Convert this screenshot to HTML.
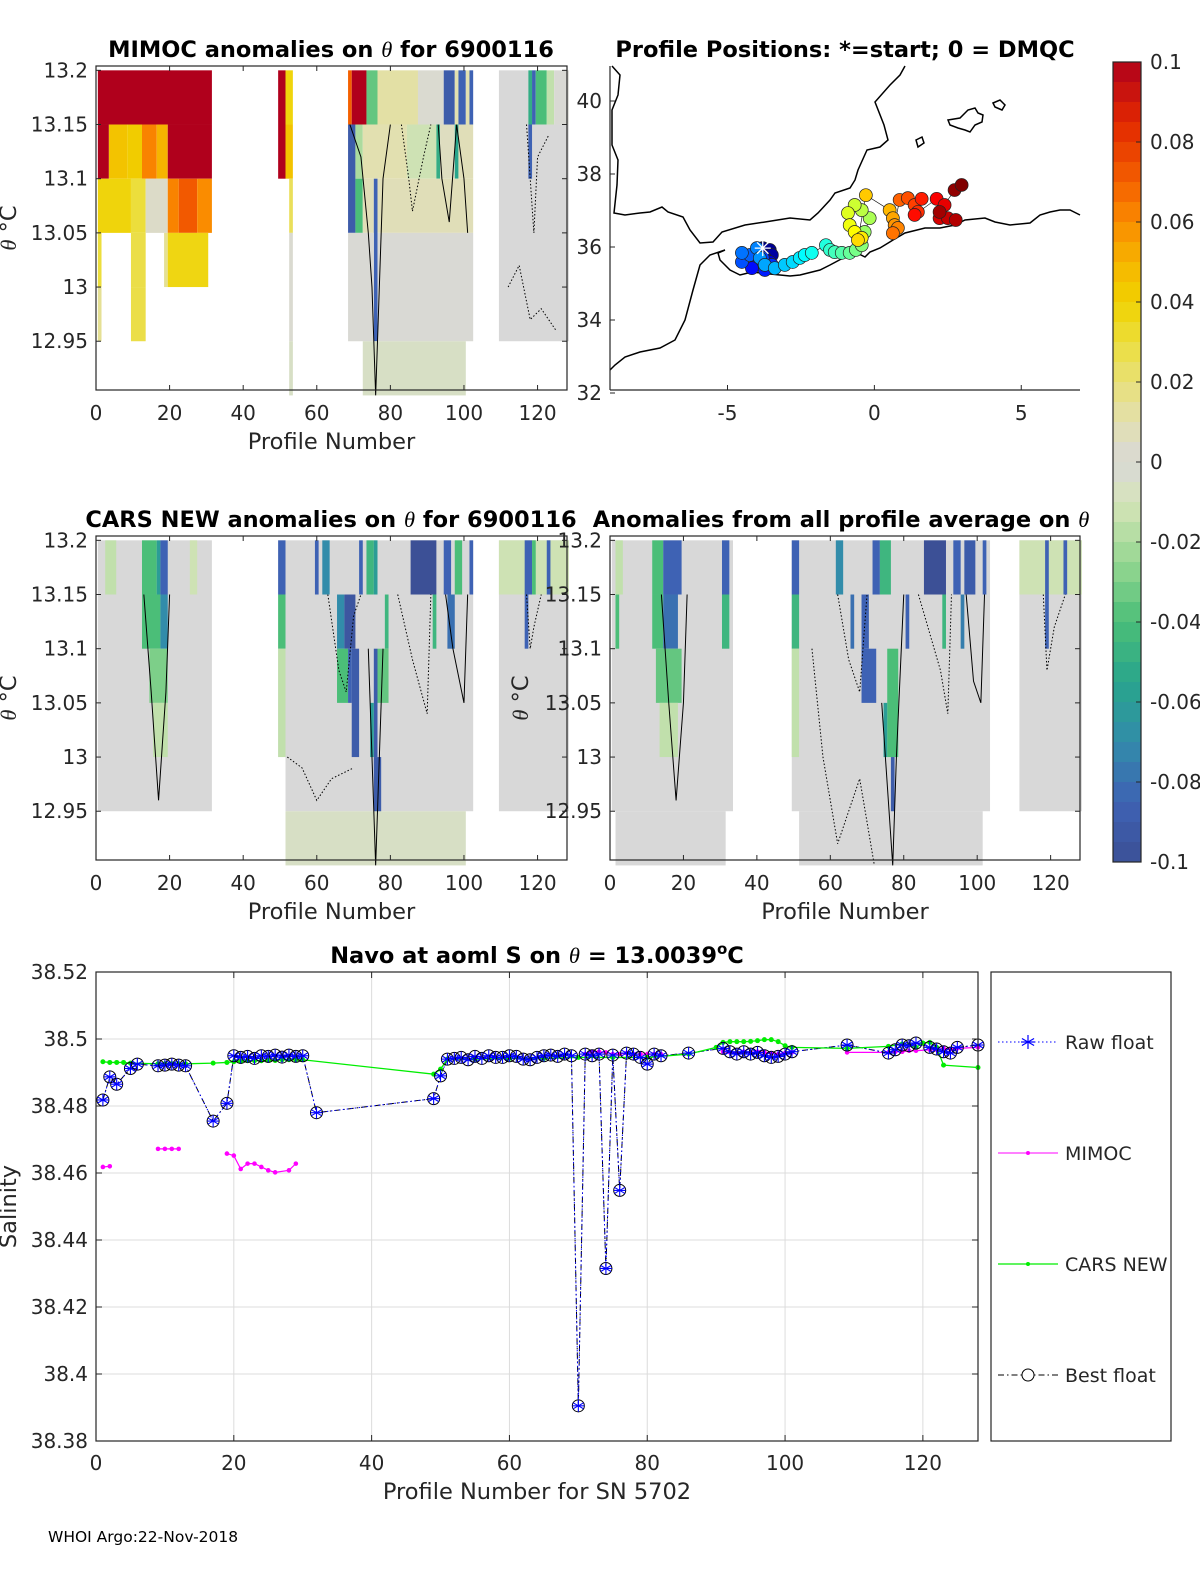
<!DOCTYPE html>
<html><head><meta charset="utf-8">
<style>
html,body{margin:0;padding:0;background:#fff;}
svg{display:block;font-family:"DejaVu Sans","Liberation Sans",sans-serif;}
</style></head>
<body>
<svg id="fig" width="1200" height="1575" viewBox="0 0 1200 1575" xmlns="http://www.w3.org/2000/svg"></svg>
<script>
// ---------- DATA ----------
const mimocBlocks = [
 [1,31,13.2,13.15,0.1],
 [1,3,13.15,13.1,0.1],[4,8,13.15,13.1,0.045],[9,12,13.15,13.1,0.042],[13,16,13.15,13.1,0.062],[17,19,13.15,13.1,0.05],[20,31,13.15,13.1,0.1],
 [1,9,13.1,13.05,0.038],[10,13,13.1,13.05,0.03],[14,19,13.1,13.05,0.004],[20,22,13.1,13.05,0.062],[23,27,13.1,13.05,0.072],[28,31,13.1,13.05,0.06],
 [1,1,13.05,13,0.03],[10,13,13.05,13,0.028],[19,19,13.05,13,0.015],[20,30,13.05,13,0.037],
 [1,1,13,12.95,0.015],[10,13,13,12.95,0.028],
 [50,51,13.2,13.1,0.1],[52,53,13.2,13.15,0.038],[52,53,13.15,13.1,0.045],[53,53,13.1,13.05,0.025],[53,53,13.05,12.95,0.002],[53,53,12.95,12.9,-0.006],
 [69,69,13.2,13.15,0.07],[70,73,13.2,13.15,0.1],[74,76,13.2,13.15,-0.035],[77,87,13.2,13.15,0.012],[88,94,13.2,13.15,0.002],[95,97,13.2,13.15,-0.09],[98,98,13.2,13.15,0.01],[99,100,13.2,13.15,-0.085],[101,101,13.2,13.15,0.01],[102,102,13.2,13.15,-0.085],
 [69,70,13.15,13.05,-0.09],[71,72,13.15,13.1,-0.02],[73,84,13.15,13.1,0.01],[85,92,13.15,13.1,-0.012],[93,93,13.15,13.1,-0.05],[94,97,13.15,13.1,0.006],[98,98,13.15,13.1,-0.055],[99,102,13.15,13.1,0.008],
 [71,72,13.1,13.05,-0.04],[73,75,13.1,13.05,0.008],[76,76,13.1,12.95,-0.085],[77,102,13.1,13.05,0.008],
 [69,75,13.05,12.95,0.001],[77,102,13.05,12.95,0.001],
 [73,100,12.95,12.9,-0.006],
 [110,117,13.2,13.15,0],[118,118,13.2,13.15,-0.05],[119,119,13.2,13.15,-0.085],[120,122,13.2,13.15,-0.04],[123,124,13.2,13.15,-0.015],[125,128,13.2,13.15,0.001],
 [110,128,13.15,12.95,0.0],[118,118,13.15,13.1,-0.085]
];
const carsBlocks = [
 [1,31,13.2,12.95,0.0],
 [3,5,13.2,13.15,-0.015],[13,16,13.2,13.15,-0.04],[17,17,13.2,13.15,-0.06],[18,19,13.2,13.15,-0.085],[26,27,13.2,13.15,-0.012],
 [13,17,13.15,13.1,-0.04],[18,19,13.15,13.1,-0.07],
 [15,19,13.1,13.05,-0.03],[16,19,13.05,13,-0.015],
 [50,51,13.2,13.0,0.0],[52,102,13.2,12.95,0.0],[52,100,12.95,12.9,-0.006],
 [50,51,13.2,13.15,-0.085],[60,60,13.2,13.15,-0.085],[62,63,13.2,13.15,-0.07],[72,72,13.2,13.15,-0.085],[74,75,13.2,13.15,-0.045],[76,76,13.2,13.15,-0.06],[86,92,13.2,13.15,-0.1],[95,96,13.2,13.15,-0.085],[98,99,13.2,13.15,-0.04],[102,102,13.2,13.15,-0.085],
 [50,51,13.15,13.1,-0.04],[66,67,13.15,13.1,-0.07],[68,70,13.15,13.1,-0.095],[79,79,13.15,13.1,-0.045],[92,92,13.15,13.1,-0.045],[96,97,13.15,13.1,-0.08],
 [50,51,13.1,13.0,-0.015],[66,68,13.1,13.05,-0.04],[69,69,13.1,13.05,-0.085],[70,71,13.1,13.0,-0.09],[76,76,13.1,13.0,-0.09],[77,79,13.1,13.05,-0.035],[75,75,13.05,13,-0.06],[76,77,13.0,12.95,-0.09],
 [110,128,13.2,12.95,0.0],[110,128,13.2,13.15,-0.012],[117,118,13.2,13.15,-0.085],[119,119,13.2,13.15,-0.04],[123,123,13.2,13.15,-0.085],[117,117,13.15,13.1,-0.085]
];
const allBlocks = [
 [1,33,13.2,12.95,0.0],[2,31,12.95,12.9,0.0],
 [2,3,13.2,13.15,-0.015],[12,14,13.2,13.15,-0.04],[15,19,13.2,13.15,-0.085],[31,32,13.2,13.15,-0.085],
 [2,2,13.15,13.1,-0.04],[12,14,13.15,13.1,-0.04],[15,18,13.15,13.1,-0.08],[31,32,13.15,13.1,-0.045],
 [13,19,13.1,13.05,-0.035],[14,18,13.05,13,-0.015],
 [50,103,13.2,12.95,0.0],[52,101,12.95,12.9,0.0],
 [50,51,13.2,13.15,-0.085],[62,63,13.2,13.15,-0.07],[72,73,13.2,13.15,-0.085],[74,76,13.2,13.15,-0.045],[86,91,13.2,13.15,-0.1],[94,95,13.2,13.15,-0.085],[97,99,13.2,13.15,-0.09],[102,102,13.2,13.15,-0.085],
 [50,51,13.15,13.1,-0.045],[66,66,13.15,13.1,-0.08],[69,70,13.15,13.1,-0.085],[81,81,13.15,13.1,-0.085],[91,91,13.15,13.1,-0.045],[96,96,13.15,13.1,-0.075],
 [50,51,13.1,13.0,-0.015],[69,72,13.1,13.05,-0.085],[76,78,13.1,13.0,-0.04],[75,75,13.05,13,-0.06],[77,77,13.0,12.95,-0.09],
 [112,128,13.2,12.95,0.0],[112,128,13.2,13.15,-0.012],[119,119,13.2,13.15,-0.085],[124,124,13.2,13.15,-0.085],[119,119,13.15,13.1,-0.085]
];
// contours: [dotted flag, points...]
const mimocContours = [
 [0,[69,13.15],[72,13.12],[74,13.05],[75,13.0],[76,12.9],[77,13.0],[78,13.1],[80,13.15]],
 [1,[83,13.15],[85,13.1],[86,13.07],[89,13.12],[91,13.15]],
 [0,[93,13.15],[94,13.1],[96,13.06],[98,13.15],[100,13.1],[101,13.05]],
 [1,[117,13.15],[118,13.1],[119,13.05],[120,13.12],[123,13.14]],
 [1,[112,13.0],[115,13.02],[118,12.97],[121,12.98],[125,12.96]]
];
const carsContours = [
 [0,[13,13.15],[15,13.06],[17,12.96],[19,13.06],[20,13.15]],
 [1,[63,13.15],[66,13.08],[68,13.06],[70,13.13],[72,13.15]],
 [0,[74,13.1],[75,13.0],[76,12.9],[77,13.0],[78,13.1]],
 [1,[82,13.15],[86,13.09],[90,13.04],[91,13.15]],
 [0,[95,13.15],[97,13.1],[100,13.05],[101,13.15]],
 [1,[117,13.15],[118,13.1],[119,13.12],[121,13.15]],
 [1,[52,13.0],[56,12.99],[60,12.96],[64,12.98],[70,12.99]]
];
const allContours = [
 [0,[14,13.15],[16,13.05],[18,12.96],[20,13.05],[21,13.15]],
 [1,[62,13.15],[65,13.09],[68,13.06],[70,13.15]],
 [0,[74,13.05],[76,12.95],[77,12.9],[78,13.0],[80,13.15]],
 [1,[84,13.15],[90,13.08],[92,13.04],[93,13.15]],
 [0,[97,13.15],[99,13.07],[101,13.05],[102,13.15]],
 [1,[118,13.15],[119,13.08],[121,13.12],[124,13.15]],
 [1,[55,13.1],[58,13.0],[62,12.92],[68,12.98],[72,12.9]]
];
const posLon = [-3.80,-3.56,-3.49,-3.73,-3.90,-3.56,-3.80,-4.00,-4.17,-3.73,-3.49,-3.80,-4.51,-4.24,-4.51,-4.00,-3.90,-3.73,-3.39,-3.05,-2.78,-2.54,-2.37,-2.13,-1.65,-1.51,-1.35,-1.11,-0.84,-0.63,-0.43,-0.33,-0.16,-0.43,-0.67,-0.90,-0.84,-0.67,-0.43,-0.56,-0.29,0.52,0.63,0.69,0.80,0.63,0.86,1.14,1.37,1.48,1.61,1.37,2.12,2.39,2.22,2.50,2.77,2.22,2.73,2.97];
const posLat = [35.97,35.92,35.78,35.70,35.84,35.59,35.51,35.59,35.42,35.37,35.51,35.70,35.59,35.78,35.84,35.97,35.70,35.51,35.42,35.51,35.59,35.70,35.78,35.84,36.05,35.92,35.86,35.84,35.84,35.92,36.05,36.41,36.79,37.01,37.15,36.93,36.60,36.41,36.25,36.19,37.42,37.01,36.79,36.60,36.52,36.38,37.29,37.34,37.15,36.96,37.32,36.88,37.32,37.15,36.79,36.79,36.74,36.96,37.56,37.70];
const profNum = [1,2,3,5,6,9,10,11,12,13,17,19,20,21,22,23,24,25,26,27,28,29,30,32,49,50,51,52,53,54,55,56,57,58,59,60,61,62,63,64,65,66,67,68,69,70,71,72,73,74,75,76,77,78,79,80,81,82,86,91,92,93,94,95,96,97,98,99,100,101,109,115,116,117,118,119,121,122,123,124,125,128];
const bestS = [38.4818,38.4887,38.4865,38.4912,38.4925,38.4920,38.4922,38.4925,38.4922,38.4920,38.4755,38.4808,38.4950,38.4945,38.4948,38.4942,38.4950,38.4948,38.4952,38.4946,38.4952,38.4948,38.4950,38.4780,38.4822,38.4890,38.4940,38.4942,38.4945,38.4938,38.4948,38.4942,38.4950,38.4945,38.4945,38.4950,38.4948,38.4940,38.4938,38.4945,38.4950,38.4952,38.4948,38.4955,38.4950,38.3905,38.4955,38.4950,38.4955,38.4315,38.4952,38.4548,38.4958,38.4955,38.4945,38.4925,38.4955,38.4950,38.4958,38.4972,38.4962,38.4955,38.4962,38.4955,38.4960,38.4950,38.4945,38.4948,38.4955,38.4962,38.4982,38.4958,38.4968,38.4982,38.4980,38.4988,38.4975,38.4970,38.4962,38.4958,38.4975,38.4982];
const rawS = bestS.slice();
const mimocProf = [1,2,9,10,11,12,19,20,21,22,23,24,25,26,28,29,71,72,73,74,75,76,77,78,79,80,81,82,91,92,93,94,95,96,97,98,99,100,101,109,115,116,117,118,119,121,122,123,124,125,128];
const mimocS = [38.4618,38.4620,38.4672,38.4672,38.4672,38.4672,38.4658,38.4652,38.4612,38.4628,38.4628,38.4618,38.4608,38.4602,38.4608,38.4628,38.4955,38.4962,38.4962,38.4960,38.4955,38.4955,38.4958,38.4955,38.4955,38.4955,38.4955,38.4955,38.4962,38.4960,38.4958,38.4962,38.4960,38.4962,38.4960,38.4958,38.4955,38.4958,38.4960,38.4960,38.4960,38.4962,38.4962,38.4965,38.4965,38.4968,38.4968,38.4972,38.4970,38.4972,38.4975];
const carsProf = [1,2,3,4,5,9,10,11,12,13,17,19,20,21,22,23,24,25,26,27,28,29,30,49,50,51,55,60,65,70,75,80,86,90,91,92,93,94,95,96,97,98,99,100,101,109,115,117,118,119,120,121,122,123,128];
const carsS = [38.4932,38.4930,38.4930,38.4930,38.4928,38.4926,38.4926,38.4926,38.4926,38.4926,38.4928,38.4930,38.4932,38.4933,38.4935,38.4935,38.4935,38.4936,38.4936,38.4938,38.4938,38.4938,38.4938,38.4895,38.4910,38.4940,38.4940,38.4942,38.4942,38.4945,38.4945,38.4945,38.4955,38.4975,38.4990,38.4992,38.4992,38.4992,38.4993,38.4995,38.4998,38.4998,38.4992,38.4980,38.4975,38.4972,38.4978,38.4985,38.4982,38.4975,38.4988,38.4990,38.4975,38.4922,38.4915];
const cbTicks = [0.1,0.08,0.06,0.04,0.02,0,-0.02,-0.04,-0.06,-0.08,-0.1];
const cbLabels = ["0.1","0.08","0.06","0.04","0.02","0","-0.02","-0.04","-0.06","-0.08","-0.1"];
const thTicks = [13.2,13.15,13.1,13.05,13,12.95];
const thLabels = ["13.2","13.15","13.1","13.05","13","12.95"];
const profTicks = [0,20,40,60,80,100,120];
const lonTicks = [-5,0,5];
const latTicks = [40,38,36,34,32];
const salTicks = [38.52,38.5,38.48,38.46,38.44,38.42,38.4,38.38];
const salLabels = ["38.52","38.5","38.48","38.46","38.44","38.42","38.4","38.38"];

// ---------- HELPERS ----------
const NS="http://www.w3.org/2000/svg";
const svg=document.getElementById('fig');
const FS=20, TFS=22.5;
function mk(tag,attrs,parent){const e=document.createElementNS(NS,tag);for(const k in attrs)e.setAttribute(k,attrs[k]);(parent||svg).appendChild(e);return e;}
function txt(s,x,y,attrs,parent){const e=mk('text',Object.assign({x:x,y:y,'font-size':FS,fill:'#262626'},attrs||{}),parent);e.textContent=s;return e;}
const TH='<tspan font-family="Liberation Serif, serif" font-style="italic" font-weight="normal">θ</tspan>';
const stops=[[-0.1,[60,80,150]],[-0.085,[62,98,180]],[-0.07,[50,140,170]],[-0.055,[40,165,140]],[-0.04,[75,190,120]],[-0.025,[150,215,145]],[-0.01,[215,228,185]],[0,[216,216,216]],[0.01,[226,224,176]],[0.02,[232,224,120]],[0.03,[236,222,60]],[0.04,[240,210,0]],[0.05,[246,180,0]],[0.06,[250,140,0]],[0.07,[244,96,0]],[0.085,[226,40,0]],[0.1,[176,0,28]]];
function cmap(v){v=Math.max(-0.1,Math.min(0.1,v));for(let i=1;i<stops.length;i++){if(v<=stops[i][0]){const a=stops[i-1],b=stops[i];const t=(v-a[0])/(b[0]-a[0]);const c=a[1].map((q,j)=>Math.round(q+(b[1][j]-q)*t));return 'rgb('+c.join(',')+')';}}return 'rgb(176,0,28)';}
function jet(t){const r=Math.max(0,Math.min(1,1.5-Math.abs(4*t-3))),g=Math.max(0,Math.min(1,1.5-Math.abs(4*t-2))),b=Math.max(0,Math.min(1,1.5-Math.abs(4*t-1)));return 'rgb('+[r,g,b].map(q=>Math.round(q*255)).join(',')+')';}

// ---------- HEATMAP PANELS ----------
function heatPanel(name,L,T,R,B,blocks,contours,titleHTML,titleX,yLabelX){
  const g=mk('g',{});
  
  
  const xs=p=>L+p*(R-L)/128;
  const ys=th=>T+(13.204-th)*(B-T)/(13.204-12.905);
  blocks.forEach(b=>{
    const r=mk('rect',{x:xs(b[0]-0.5),y:ys(b[2]),width:xs(b[1]+0.5)-xs(b[0]-0.5),height:ys(b[3])-ys(b[2]),fill:cmap(b[4])},g);
    
    
  });
  contours.forEach(c=>{
    const pts=c.slice(1);
    const pl=mk('polyline',{points:pts.map(q=>xs(q[0])+','+ys(q[1])).join(' '),fill:'none',stroke:'#000','stroke-width':1,'stroke-dasharray':c[0]?'1.5 2':'none'},g);
    
    
  });
  mk('rect',{x:L,y:T,width:R-L,height:B-T,fill:'none',stroke:'#262626','stroke-width':1.2},g);
  profTicks.forEach(t=>{const x=xs(t);mk('line',{x1:x,y1:B,x2:x,y2:B-5,stroke:'#262626'},g);mk('line',{x1:x,y1:T,x2:x,y2:T+5,stroke:'#262626'},g);
    const l=txt(String(t),x,B+30,{'text-anchor':'middle'},g);});
  thTicks.forEach((t,i)=>{const y=ys(t);mk('line',{x1:L,y1:y,x2:L+5,y2:y,stroke:'#262626'},g);mk('line',{x1:R,y1:y,x2:R-5,y2:y,stroke:'#262626'},g);
    const l=txt(thLabels[i],L-8,y+7,{'text-anchor':'end'},g);});
  const xt=txt('Profile Number',(L+R)/2,B+59,{'text-anchor':'middle','font-size':TFS},g);
  
  const yt=mk('text',{'text-anchor':'middle','font-size':TFS,fill:'#262626',transform:'translate('+yLabelX+','+((T+B)/2)+') rotate(-90)'},g);
  yt.innerHTML=TH+' °C';
  
  const tt=mk('text',{x:titleX,y:T-9,'text-anchor':'middle','font-size':TFS,'font-weight':'bold',fill:'#000'},g);
  tt.innerHTML=titleHTML;
  
}
heatPanel('mimoc-anomaly-panel',96,66,567,390,mimocBlocks,mimocContours,'MIMOC anomalies on '+TH+'  for 6900116',331,16);
heatPanel('cars-anomaly-panel',96,536,567,860,carsBlocks,carsContours,'CARS NEW anomalies on '+TH+' for 6900116',331,16);
heatPanel('all-profile-anomaly-panel',610,536,1080,860,allBlocks,allContours,'Anomalies from all profile average on '+TH,841,528);

// ---------- MAP ----------
(function(){
  const L=610,T=66,R=1080,B=390;
  const g=mk('g',{});
  
  
  const xs=lon=>L+(lon+9)*(R-L)/16;
  const ys=lat=>247-(lat-36)*36.5;
  const coast=[
   "612,66 620,75 618,95 612,110 612,145 618,160 617,185 614,213 625,215 640,213 650,212 662,207 668,212 683,217 690,230 700,243 713,242 722,232 745,225 765,222 790,218 810,220 818,213 830,200 835,193 850,188 855,180 858,170 867,150 880,147 888,140 884,125 875,102 890,85 900,75 905,66",
   "1080,215 1070,210 1060,210 1050,212 1040,215 1030,223 1010,225 995,222 985,218 965,220 955,225 940,228 925,228 905,233 893,240 880,248 870,252 865,257 855,252 845,257 830,265 820,270 800,275 790,276 770,274 752,272 740,275 730,270 720,260 718,253 725,250 710,255 700,265 693,290 685,320 675,340 660,348 640,352 625,357 615,365 610,370"];
  coast.forEach(c=>{const p=mk('polyline',{points:c,fill:'none',stroke:'#000','stroke-width':1.5},g);});
  ["948,120 960,118 968,110 975,108 978,113 983,115 982,122 975,125 970,132 965,130 958,128 950,125","993,103 1000,100 1005,105 1002,110 995,107","916,140 922,137 924,143 918,147"].forEach(c=>{const p=mk('polygon',{points:c,fill:'none',stroke:'#000','stroke-width':1.5},g);});
  mk('polyline',{points:posLon.map((v,i)=>xs(v)+','+ys(posLat[i])).join(' '),fill:'none',stroke:'#000','stroke-width':0.6},g);
  posLon.forEach((v,i)=>{const c=mk('circle',{cx:xs(v),cy:ys(posLat[i]),r:6.5,fill:jet(i/(posLon.length-1)),stroke:'#222','stroke-width':0.7},g);
    });
  const sx=xs(posLon[0]),sy=ys(posLat[0]);
  [0,45,90,135].forEach(a=>{const r=a*Math.PI/180;mk('line',{x1:sx-8*Math.cos(r),y1:sy-8*Math.sin(r),x2:sx+8*Math.cos(r),y2:sy+8*Math.sin(r),stroke:'#fff','stroke-width':1.3},g);});
  mk('line',{x1:L,y1:T,x2:L,y2:B,stroke:'#262626','stroke-width':1.2},g);
  mk('line',{x1:L,y1:B,x2:R,y2:B,stroke:'#262626','stroke-width':1.2},g);
  lonTicks.forEach(t=>{const x=xs(t);mk('line',{x1:x,y1:B,x2:x,y2:B-5,stroke:'#262626'},g);
    const l=txt(String(t),x,B+30,{'text-anchor':'middle'},g);});
  latTicks.forEach(t=>{const y=ys(t);mk('line',{x1:L,y1:y,x2:L+5,y2:y,stroke:'#262626'},g);
    const l=txt(String(t),L-8,y+7,{'text-anchor':'end'},g);});
  const tt=txt('Profile Positions: *=start; 0 = DMQC',845,57,{'text-anchor':'middle','font-size':TFS,'font-weight':'bold',fill:'#000'},g);
  
})();

// ---------- COLORBAR ----------
(function(){
  const L=1113,R=1141,T=62,B=862;
  const g=mk('g',{});
  
  
  const ys=v=>T+(0.1-v)*(B-T)/0.2;
  for(let i=0;i<40;i++){const v1=0.1-i*0.005;mk('rect',{x:L,y:ys(v1),width:R-L,height:(B-T)/40+0.5,fill:cmap(v1-0.0025)},g);}
  mk('rect',{x:L,y:T,width:R-L,height:B-T,fill:'none',stroke:'#262626','stroke-width':1.2},g);
  cbTicks.forEach((t,i)=>{const y=ys(t);mk('line',{x1:R,y1:y,x2:R-5,y2:y,stroke:'#262626'},g);
    const l=txt(cbLabels[i],R+9,y+7,{},g);});
})();

// ---------- SALINITY PANEL ----------
(function(){
  const L=96,R=978,T=972,B=1441;
  const g=mk('g',{});
  
  
  const xs=p=>L+p*(R-L)/128;
  const ys=s=>T+(38.52-s)*(B-T)/0.14;
  profTicks.forEach(t=>{const x=xs(t);mk('line',{x1:x,y1:T,x2:x,y2:B,stroke:'#dcdcdc'},g);});
  salTicks.forEach(t=>{const y=ys(t);mk('line',{x1:L,y1:y,x2:R,y2:y,stroke:'#dcdcdc'},g);});
  function segLine(px,vals,color,w){let seg=[];const segs=[];px.forEach((p,i)=>{if(i>0&&p-px[i-1]>6){segs.push(seg);seg=[];}seg.push(xs(p)+','+ys(vals[i]));});segs.push(seg);
    segs.forEach(s=>{const pl=mk('polyline',{points:s.join(' '),fill:'none',stroke:color,'stroke-width':w},g);});}
  segLine(mimocProf,mimocS,'#ff00ff',1.2);
  mimocProf.forEach((p,i)=>{const c=mk('circle',{cx:xs(p),cy:ys(mimocS[i]),r:2.3,fill:'#ff00ff'},g);});
  const bl=mk('polyline',{points:profNum.map((p,i)=>xs(p)+','+ys(bestS[i])).join(' '),fill:'none',stroke:'#000','stroke-width':1,'stroke-dasharray':'6 3 1.5 3'},g);
  
  const rl=mk('polyline',{points:profNum.map((p,i)=>xs(p)+','+ys(rawS[i])).join(' '),fill:'none',stroke:'#0000ff','stroke-width':1,'stroke-dasharray':'1.5 2.5'},g);
  
  const cl=mk('polyline',{points:carsProf.map((p,i)=>xs(p)+','+ys(carsS[i])).join(' '),fill:'none',stroke:'#00ee00','stroke-width':1.3},g);
  
  carsProf.forEach((p,i)=>{const c=mk('circle',{cx:xs(p),cy:ys(carsS[i]),r:2.5,fill:'#00ee00'},g);});
  profNum.forEach((p,i)=>{const x=xs(p),y=ys(bestS[i]);
    const c=mk('circle',{cx:x,cy:y,r:6,fill:'none',stroke:'#000','stroke-width':1},g);
    const yr=ys(rawS[i]);
    [0,60,120].forEach(a=>{const r=a*Math.PI/180+Math.PI/2;mk('line',{x1:x-6*Math.cos(r),y1:yr-6*Math.sin(r),x2:x+6*Math.cos(r),y2:yr+6*Math.sin(r),stroke:'#0000ff','stroke-width':1.1},g);});
    mk('line',{x1:x-6,y1:yr,x2:x+6,y2:yr,stroke:'#0000ff','stroke-width':1.1},g);
  });
  mk('rect',{x:L,y:T,width:R-L,height:B-T,fill:'none',stroke:'#262626','stroke-width':1.2},g);
  profTicks.forEach(t=>{const x=xs(t);mk('line',{x1:x,y1:B,x2:x,y2:B-6,stroke:'#262626'},g);mk('line',{x1:x,y1:T,x2:x,y2:T+6,stroke:'#262626'},g);
    const l=txt(String(t),x,B+29,{'text-anchor':'middle'},g);});
  salTicks.forEach((t,i)=>{const y=ys(t);mk('line',{x1:L,y1:y,x2:L+6,y2:y,stroke:'#262626'},g);mk('line',{x1:R,y1:y,x2:R-6,y2:y,stroke:'#262626'},g);
    const l=txt(salLabels[i],L-8,y+7,{'text-anchor':'end'},g);});
  const xt=txt('Profile Number for SN 5702',(L+R)/2,B+58,{'text-anchor':'middle','font-size':TFS},g);
  
  const yt=txt('Salinity',0,0,{'text-anchor':'middle','font-size':TFS,transform:'translate(16,'+((T+B)/2)+') rotate(-90)'},g);
  
  const tt=mk('text',{x:537,y:963,'text-anchor':'middle','font-size':TFS,'font-weight':'bold',fill:'#000'},g);
  tt.innerHTML='Navo at aoml S on '+TH+' = 13.0039<tspan dy="-9" font-size="15">o</tspan><tspan dy="9">C</tspan>';
  
})();

// ---------- LEGEND ----------
(function(){
  const g=mk('g',{});
  
  
  mk('rect',{x:991,y:972,width:180,height:469,fill:'#fff',stroke:'#262626','stroke-width':1.2},g);
  const entries=[['Raw float',1042],['MIMOC',1153],['CARS NEW',1264],['Best float',1375]];
  entries.forEach((e,i)=>{
    const eg=mk('g',{},g);
    
    
    const y=e[1],x1=998,x2=1058,xm=(x1+x2)/2;
    if(i===0){mk('line',{x1:x1,y1:y,x2:x2,y2:y,stroke:'#0000ff','stroke-dasharray':'1.5 2.5'},eg);
      [0,60,120].forEach(a=>{const r=a*Math.PI/180+Math.PI/2;mk('line',{x1:xm-7*Math.cos(r),y1:y-7*Math.sin(r),x2:xm+7*Math.cos(r),y2:y+7*Math.sin(r),stroke:'#0000ff','stroke-width':1.2},eg);});
      mk('line',{x1:xm-7,y1:y,x2:xm+7,y2:y,stroke:'#0000ff','stroke-width':1.2},eg);}
    if(i===1){mk('line',{x1:x1,y1:y,x2:x2,y2:y,stroke:'#ff00ff'},eg);mk('circle',{cx:xm,cy:y,r:2,fill:'#ff00ff'},eg);}
    if(i===2){mk('line',{x1:x1,y1:y,x2:x2,y2:y,stroke:'#00ee00','stroke-width':1.3},eg);mk('circle',{cx:xm,cy:y,r:2,fill:'#00ee00'},eg);}
    if(i===3){mk('line',{x1:x1,y1:y,x2:x2,y2:y,stroke:'#000','stroke-dasharray':'6 3 1.5 3'},eg);mk('circle',{cx:xm,cy:y,r:6,fill:'#fff',stroke:'#000'},eg);}
    txt(e[0],1065,y+7,{'font-size':19},eg);
  });
})();

const ft=txt('WHOI Argo:22-Nov-2018',48,1542,{'font-size':15.5,fill:'#000'});


</script>
</body></html>
